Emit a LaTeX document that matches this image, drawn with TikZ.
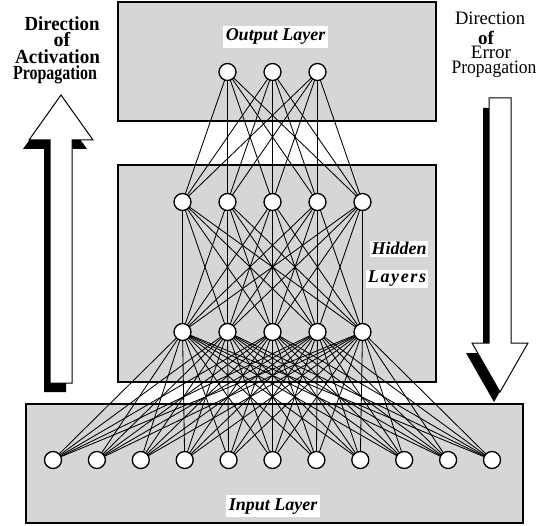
\documentclass[tikz,border=0pt]{standalone}
\usepackage{fontspec}
\setmainfont{Liberation Serif}
\usepackage{graphicx}
\usetikzlibrary{calc}
\pgfdeclarelayer{boxes}
\pgfdeclarelayer{links}
\pgfsetlayers{boxes,links,main}

\newcommand{\sidebold}{\fontsize{20}{20}\selectfont\bfseries}
\newcommand{\sideplain}{\fontsize{19}{19}\selectfont}

\tikzset{
  layerbox/.style={draw=black, line width=1.2pt, fill=black!16},
  neuron/.style={circle, draw=black, line width=1.3pt, fill=white,
                 minimum size=17pt, inner sep=0pt},
  link/.style={line width=0.85pt, black},
  layerlabel/.style={font=\fontsize{18}{20}\selectfont\bfseries\itshape,
                     fill=white, inner sep=3pt},
  sidetext/.style={anchor=base, inner sep=0pt, text depth=0pt, text height=12pt},
  arrowbody/.style={fill=white, draw=black, line width=1pt, line join=miter},
  arrowshadow/.style={fill=black},
}

\begin{document}
\begin{tikzpicture}[x=1pt, y=-1pt]
  \useasboundingbox (0,0) rectangle (540,526);

  % layer panels
  \begin{pgfonlayer}{boxes}
    \draw[layerbox] (118,2)   rectangle (436,121);
    \draw[layerbox] (118,165) rectangle (436,382);
    \draw[layerbox] (26,404)  rectangle (523,523);
  \end{pgfonlayer}

  % neurons
  \foreach \i/\x in {1/227.5, 2/272.5, 3/317.5}
    \node[neuron] (o\i) at (\x,72) {};
  \foreach \i in {1,...,5} {
    \node[neuron] (a\i) at ({137.5+45*\i},202) {};
    \node[neuron] (b\i) at ({137.5+45*\i},332) {};
  }
  \foreach \i in {1,...,11}
    \node[neuron] (in\i) at ({9.1+43.9*\i},460) {};

  % full connections between neighbouring layers
  \begin{pgfonlayer}{links}
    \foreach \i in {1,...,3}
      \foreach \j in {1,...,5}
        \draw[link] (o\i.center) -- (a\j.center);
    \foreach \i in {1,...,5}
      \foreach \j in {1,...,5}
        \draw[link] (a\i.center) -- (b\j.center);
    \foreach \i in {1,...,5}
      \foreach \j in {1,...,11}
        \draw[link] (b\i.center) -- (in\j.center);
  \end{pgfonlayer}

  % layer names
  \node[layerlabel, anchor=base] (outlbl) at (275.5,41) {Output Layer};
  \node[layerlabel, anchor=base, inner sep=1.5pt] (hidlbl1) at (399,255) {Hidden};
  \node[layerlabel, anchor=base, inner sep=1.5pt] (hidlbl2) at (397,283)
    {\addfontfeature{LetterSpace=9}Layers};
  \node[layerlabel, anchor=base] (inlbl) at (273,510) {Input Layer};

  % activation arrow (upwards) with drop shadow
  \path[arrowshadow, shift={(-6,9)}]
    (61,95) -- (93,140) -- (72,140) -- (72,383) -- (50,383) -- (50,140) -- (29,140) -- cycle;
  \draw[arrowbody]
    (61,95) -- (93,140) -- (72,140) -- (72,383) -- (50,383) -- (50,140) -- (29,140) -- cycle;

  % error arrow (downwards) with drop shadow
  \path[arrowshadow, shift={(-6,10)}]
    (500,392) -- (528,343) -- (511,343) -- (511,98) -- (489,98) -- (489,343) -- (472,343) -- cycle;
  \draw[arrowbody]
    (500,392) -- (528,343) -- (511,343) -- (511,98) -- (489,98) -- (489,343) -- (472,343) -- cycle;

  % captions of the arrows
  \node[sidetext] (actl1) at (62,31)   {\resizebox{75pt}{\height}{\sidebold Direction}};
  \node[sidetext] (actl2) at (62,47)   {\sidebold of};
  \node[sidetext] (actl3) at (57.5,64) {\resizebox{85pt}{\height}{\sidebold Activation}};
  \node[sidetext] (actl4) at (55,80)   {\resizebox{84pt}{\height}{\sidebold Propagation}};

  \node[sidetext] (errl1) at (490,25)  {\resizebox{70pt}{\height}{\sideplain Direction}};
  \node[sidetext, text height=9pt] (errl2) at (486,45) {\sideplain\bfseries of};
  \node[sidetext] (errl3) at (491,59)  {\sideplain Error};
  \node[sidetext] (errl4) at (494,74)  {\resizebox{85pt}{\height}{\sideplain Propagation}};
\end{tikzpicture}
\end{document}
